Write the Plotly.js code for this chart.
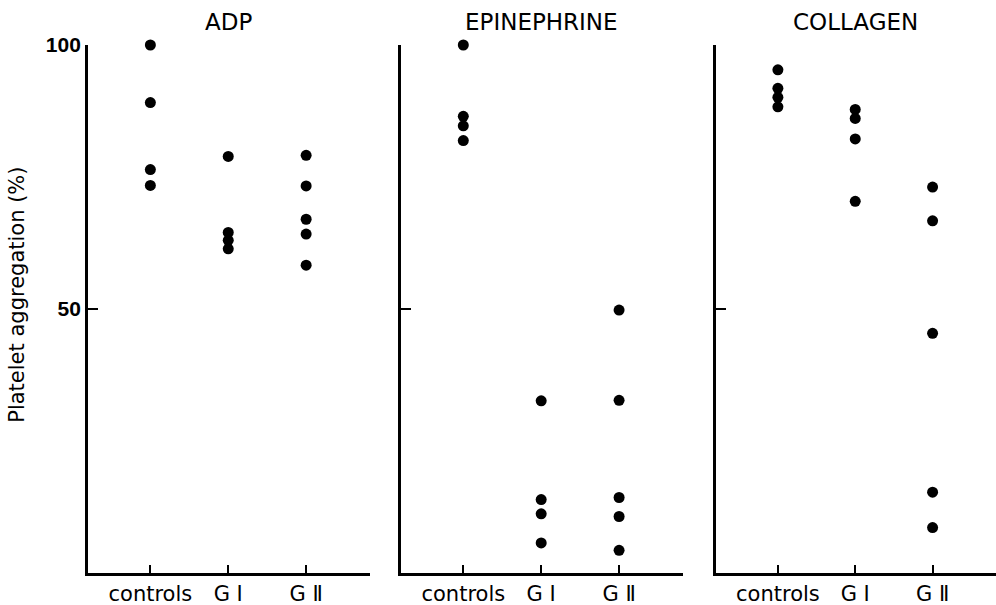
<!DOCTYPE html>
<html>
<head>
<meta charset="utf-8">
<script src="https://cdn.plot.ly/plotly-3.0.1.min.js"></script>
<style>html,body{margin:0;padding:0;background:#fff;}#chart{width:996px;height:605px;}</style>
</head>
<body>
<div id="chart"></div>
<script>
// Categories and panel titles
const categories = ['controls', 'G Ⅰ', 'G Ⅱ'];
const panelTitles = ['ADP', 'EPINEPHRINE', 'COLLAGEN'];
const yTickVals = [50, 100];
const yTickText = ['50', '100'];
const yAxisTitle = 'Platelet aggregation (%)';

// ADP (%)
const adpControls = [100, 89.1, 76.4, 73.4];
const adpG1 = [78.9, 64.5, 63.0, 61.4];
const adpG2 = [79.1, 73.3, 67.0, 64.2, 58.3];

// EPINEPHRINE (%)
const epiControls = [100, 86.5, 84.7, 81.9];
const epiG1 = [32.6, 13.9, 11.2, 5.7];
const epiG2 = [49.8, 32.7, 14.3, 10.7, 4.3];

// COLLAGEN (%)
const colControls = [95.3, 91.8, 90.1, 88.3];
const colG1 = [87.8, 86.1, 82.2, 70.4];
const colG2 = [73.1, 66.7, 45.4, 15.3, 8.6];

const panels = [
  [adpControls, adpG1, adpG2],
  [epiControls, epiG1, epiG2],
  [colControls, colG1, colG2]
];

const domains = [[0.0884, 0.3715], [0.4026, 0.6857], [0.7189, 1.0]];
const axisFont = {family: 'DejaVu Sans', size: 21, color: '#000'};
const numFont = {family: 'Liberation Sans Narrow, Liberation Sans', size: 21, color: '#000', weight: 'bold'};

const traces = [];
panels.forEach((groups, p) => {
  const xa = p === 0 ? 'x' : 'x' + (p + 1);
  const ya = p === 0 ? 'y' : 'y' + (p + 1);
  groups.forEach((vals, g) => {
    traces.push({
      type: 'scatter', mode: 'markers',
      x: vals.map(() => categories[g]),
      y: vals,
      xaxis: xa, yaxis: ya,
      marker: {color: '#000', size: 11},
      cliponaxis: false,
      hoverinfo: 'y'
    });
  });
});

const layout = {
  width: 996, height: 605,
  margin: {l: 0, r: 0, t: 45, b: 32},
  paper_bgcolor: '#fff', plot_bgcolor: '#fff',
  showlegend: false,
  annotations: []
};

panels.forEach((_, p) => {
  const sfx = p === 0 ? '' : String(p + 1);
  layout['xaxis' + sfx] = {
    domain: domains[p],
    anchor: 'y' + sfx,
    type: 'category',
    categoryarray: categories,
    range: [-0.8, 2.82],
    showline: true, linewidth: 3, linecolor: '#000',
    ticks: 'inside', ticklen: 8, tickwidth: 2, tickcolor: '#000',
    tickfont: axisFont,
    showgrid: false, zeroline: false, fixedrange: true
  };
  layout['yaxis' + sfx] = {
    anchor: 'x' + sfx,
    range: [0, 100],
    tickvals: yTickVals,
    ticktext: yTickText,
    showticklabels: p === 0,
    showline: true, linewidth: 3, linecolor: '#000',
    ticks: 'inside', ticklen: 10, tickwidth: 2, tickcolor: '#000',
    tickfont: numFont,
    showgrid: false, zeroline: false, fixedrange: true
  };
  layout.annotations.push({
    text: panelTitles[p],
    xref: 'x' + sfx, yref: 'paper',
    x: 1, y: 1.0436,
    xanchor: 'center', yanchor: 'middle',
    showarrow: false,
    font: {family: 'DejaVu Sans', size: 23, color: '#000'}
  });
});

layout.annotations.push({
  text: yAxisTitle,
  xref: 'paper', yref: 'paper',
  x: 17 / 996, y: 0.527,
  xanchor: 'center', yanchor: 'middle',
  textangle: -90,
  showarrow: false,
  font: {family: 'DejaVu Sans', size: 21, color: '#000'}
});

Plotly.newPlot('chart', traces, layout, {displayModeBar: false, staticPlot: true});
</script>
</body>
</html>
